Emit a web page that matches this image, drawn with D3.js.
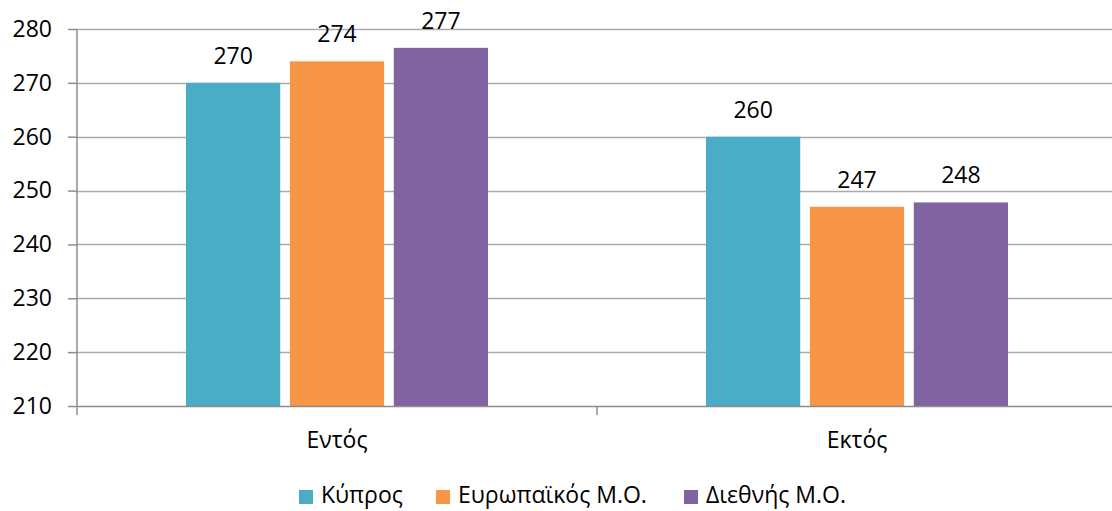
<!DOCTYPE html>
<html>
<head>
<meta charset="utf-8">
<script src="https://cdn.jsdelivr.net/npm/d3@7"></script>
<style>
  body { margin: 0; background: #fff; }
  svg { display: block; }
  svg text { font-family: "Open Sans", sans-serif; fill: #000; }
  .tick text { font-size: 23px; }
</style>
</head>
<body>
<svg id="chart" width="1112" height="511"></svg>
<script>
var categories = ["Εντός", "Εκτός"];
var series = ["Κύπρος", "Ευρωπαϊκός Μ.Ο.", "Διεθνής Μ.Ο."];
var kyprosValues = [270, 260];
var europeValues = [274, 247];
var diethnisValues = [276.5, 247.8];
var yTicks = [210, 220, 230, 240, 250, 260, 270, 280];
var colors = ["#4BACC6", "#F79646", "#8064A2"];

var svg = d3.select("svg#chart"),
    margin = {top: 29, right: -5, bottom: 105, left: 77},
    width = +svg.attr("width") - margin.left - margin.right,
    height = +svg.attr("height") - margin.top - margin.bottom;

var data = categories.map(function(c, i) {
  return {cat: c, values: [kyprosValues[i], europeValues[i], diethnisValues[i]]};
});

var x0 = d3.scaleBand().domain(categories).range([0, width]);
var groupW = 302;
var x1 = d3.scaleBand().domain(d3.range(series.length))
    .range([(x0.bandwidth() - groupW) / 2, (x0.bandwidth() + groupW) / 2])
    .paddingInner(0.093);
var y = d3.scaleLinear().domain([210, 280]).range([height, 0]);

var g = svg.append("g")
    .attr("transform", "translate(" + margin.left + "," + margin.top + ")");

// gridlines
g.append("g").selectAll("line").data(yTicks.slice(1)).enter().append("line")
    .attr("x1", 0).attr("x2", width)
    .attr("y1", function(d) { return Math.round(y(d)) + 0.5; })
    .attr("y2", function(d) { return Math.round(y(d)) + 0.5; })
    .attr("stroke", "#ababab").attr("stroke-width", 1.5);

// bars
var groups = g.selectAll(".grp").data(data).enter().append("g")
    .attr("class", "grp")
    .attr("transform", function(d) { return "translate(" + x0(d.cat) + ",0)"; });

groups.selectAll("rect").data(function(d) { return d.values; }).enter().append("rect")
    .attr("x", function(d, i) { return x1(i); })
    .attr("width", x1.bandwidth())
    .attr("y", function(d) { return y(d); })
    .attr("height", function(d) { return height - y(d); })
    .attr("fill", function(d, i) { return colors[i]; });

groups.selectAll("text").data(function(d) { return d.values; }).enter().append("text")
    .attr("x", function(d, i) { return x1(i) + x1.bandwidth() / 2; })
    .attr("y", function(d) { return y(d) - 19; })
    .attr("text-anchor", "middle")
    .attr("font-size", 23)
    .text(function(d) { return Math.round(d); });

// y axis
var yAxis = g.append("g")
    .call(d3.axisLeft(y).tickValues(yTicks).tickSize(9).tickPadding(16));
yAxis.select(".domain").attr("stroke", "#8c8c8c").attr("stroke-width", 1.5)
    .attr("d", "M0," + (height + 9) + "V0");
yAxis.selectAll(".tick line").attr("stroke", "#8c8c8c").attr("stroke-width", 1.5);

// x axis
var xAxis = g.append("g")
    .attr("transform", "translate(0," + height + ")")
    .call(d3.axisBottom(x0).tickSize(0).tickPadding(26));
xAxis.select(".domain").attr("stroke", "#8c8c8c").attr("stroke-width", 1.5);
xAxis.append("line")
    .attr("x1", x0.bandwidth()).attr("x2", x0.bandwidth())
    .attr("y1", 0).attr("y2", 9)
    .attr("stroke", "#8c8c8c").attr("stroke-width", 1.5);

// legend
var legendX = [299, 436, 684];
var legend = svg.append("g");
series.forEach(function(s, i) {
  legend.append("rect")
      .attr("x", legendX[i]).attr("y", 490)
      .attr("width", 14).attr("height", 14)
      .attr("fill", colors[i]);
  legend.append("text")
      .attr("x", legendX[i] + 22).attr("y", 503)
      .attr("font-size", 23)
      .text(s);
});
</script>
</body>
</html>
